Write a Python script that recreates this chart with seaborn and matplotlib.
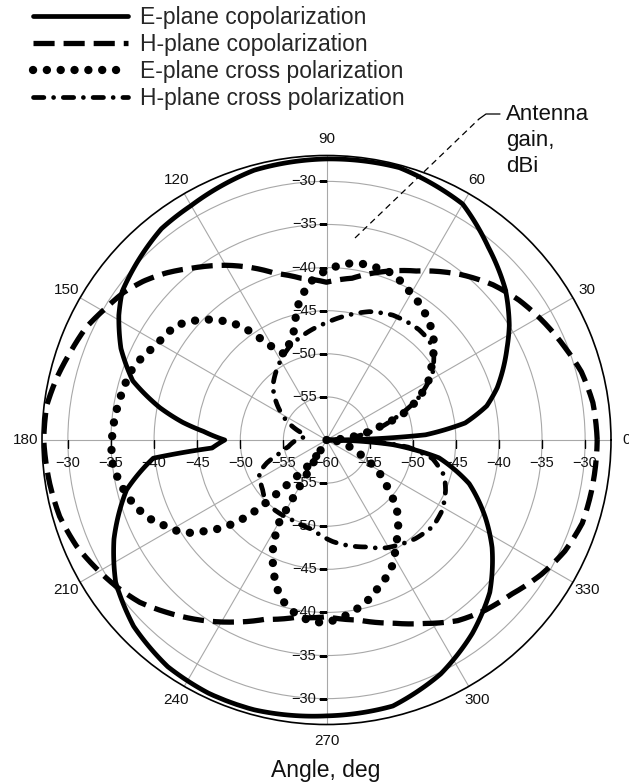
import numpy as np
import matplotlib
matplotlib.use('Agg')
import matplotlib.pyplot as plt
import seaborn as sns
from matplotlib.lines import Line2D

sns.set_theme(style='white')
plt.rcParams['font.family'] = ['Liberation Sans', 'DejaVu Sans']

# ---------------- data (angle in deg, gain in dBi) ----------------
e_co_theta = [0, 3, 7, 12, 17, 22, 27, 32, 40, 50, 60, 75, 90, 105, 120, 128, 137, 144, 149,
              156, 163, 169, 173, 176, 180, 184, 186, 194, 205, 214, 224, 235, 245, 255,
              270, 284, 296, 307, 317, 327, 334, 343, 351, 356, 360]
e_co_gain = [-60, -48.5, -43.8, -41.0, -39.3, -37.9, -36.5, -35.0, -32.9, -30.8, -28.4, -27.3,
             -27.4, -27.6, -28.6, -28.9, -29.9, -30.7, -31.9, -33.9, -36.5, -40.3, -43.2, -45.7,
             -48.2, -46.7, -39.8, -36.1, -32.8, -30.5, -28.9, -27.9, -27.6, -27.6, -28.0,
             -28.2, -29.8, -31.9, -34.1, -37.1, -39.5, -42.7, -46.8, -52.3, -60]

h_co_theta = [0, 8, 15, 21, 29, 36, 43, 51, 62, 72, 81, 90, 99, 107, 120, 128, 134, 139, 144,
              149, 155, 161, 167, 173, 180, 189, 196, 203, 209, 215, 221, 227, 235, 243, 251,
              260, 270, 280, 290, 298, 306, 313, 320, 328, 335, 342, 349, 360]
h_co_gain = [-28.6, -28.8, -29.4, -30.3, -31.4, -32.4, -33.6, -35.3, -37.8, -39.5, -41.0, -41.7,
             -41.0, -39.8, -36.6, -34.7, -33.1, -31.9, -30.9, -30.2, -29.2, -28.6, -27.9, -27.3,
             -27.2, -27.5, -27.8, -28.5, -29.4, -30.3, -31.3, -32.7, -34.5, -36.3, -38.0, -39.1,
             -39.5, -38.8, -37.4, -35.9, -34.1, -33.0, -32.1, -30.6, -29.5, -28.8, -28.7, -28.6]

e_x_theta = [0, 5, 10, 14, 17, 20, 25, 29, 34, 38, 43, 47, 52, 57, 63, 68, 73, 77, 82, 86, 91,
             96, 100, 103, 105, 108, 116, 121, 124, 126.5, 129.5, 132.5, 136, 139.5, 143, 147.5,
             152, 157, 161, 166, 170, 174, 177, 180, 184, 188, 191, 195, 200, 204.5, 208, 212,
             215, 217, 220, 222, 224, 225.5, 227, 229, 232, 236, 240, 240, 240, 242, 244, 246.5,
             249, 252, 255.5, 260, 265, 269, 274, 279, 284, 290, 295, 299, 303, 307.5, 312, 317,
             320.5, 326, 331.5, 336.5, 342, 350, 360]
e_x_gain = [-60, -58, -55.5, -53.7, -51.8, -50, -48.1, -46.6, -45.4, -44.3, -43, -42.2, -41.4,
            -40.7, -40, -39.2, -39.2, -39.1, -39.3, -39.7, -40.5, -41.6, -43.2, -44.5, -46,
            -47.4, -49, -47.2, -45.4, -43.7, -42.3, -41.1, -39.9, -38.9, -38, -37.7, -37.2,
            -36.4, -35.9, -35.7, -35.5, -35.3, -35.2, -35.1, -35, -35.1, -35.5, -35.9, -36.7,
            -37.7, -38.8, -39.9, -41.2, -42.5, -44.1, -45.6, -47.3, -49.2, -51.3, -53.5, -55.3,
            -57, -59, -55, -49.1, -47.3, -45.8, -44.4, -43.1, -41.7, -40.5, -39.5, -38.9, -38.8,
            -39.2, -39.9, -40.7, -42, -42.9, -43.9, -45.3, -46.4, -47.6, -49, -50.6, -52.1,
            -53.9, -55.6, -57, -58, -60]

h_x_theta = [0, 7, 11, 17, 24, 32, 38, 44, 50, 55, 62, 71.5, 81, 90, 101, 112, 122, 135, 142,
             154, 164, 172, 180, 190, 196, 201, 206, 218, 226, 237, 247, 261, 273.5, 280.5, 290,
             299, 312, 321, 329, 337, 343, 350, 355, 360]
h_x_gain = [-57, -56.5, -54.5, -52, -48.5, -45.5, -44.2, -43.4, -43.3, -43.4, -43.6, -44.3,
            -45.4, -46.4, -47.4, -48.4, -49.6, -51.2, -52.5, -54.8, -57, -57.5, -56.5, -55.5,
            -54.3, -52.6, -51.3, -50.6, -49.9, -49.9, -49.9, -49.5, -48.2, -47.6, -46.8, -45.7,
            -44.6, -44.1, -44.3, -45, -45.7, -47.5, -50.5, -57]

series_names = ['E-plane copolarization', 'H-plane copolarization',
                'E-plane cross polarization', 'H-plane cross polarization']

rings = [-55, -50, -45, -40, -35, -30]
theta_ticks = [0, 30, 60, 90, 120, 150, 180, 210, 240, 270, 300, 330]
r_min, r_max = -60, -27

# ---------------- figure ----------------
W, H = 629, 784
fig = plt.figure(figsize=(W / 100, H / 100), dpi=100)
cx, cy, R = 326.5, 440, 284.5
ax = fig.add_axes([(cx - R) / W, (H - cy - R) / H, 2 * R / W, 2 * R / H], projection='polar')
ax.set_ylim(r_min, r_max)
ax.set_yticks(rings)
ax.set_yticklabels([])
ax.set_xticks(np.deg2rad(theta_ticks))
ax.set_xticklabels([str(t) for t in theta_ticks], fontsize=11, color='#111111')
ax.tick_params(axis='x', direction='out', length=3.6, width=1, color='black', pad=1)
ax.grid(True, color='#a8a8a8', lw=0.8)
ax.spines['polar'].set_color('black')
ax.spines['polar'].set_linewidth(1.2)
ax.set_facecolor('white')


def draw(theta, gain, lw, dashes=None, cap='butt'):
    sns.lineplot(x=np.deg2rad(theta), y=gain, ax=ax, sort=False, estimator=None,
                 color='black', lw=lw, zorder=4)
    ln = ax.lines[-1]
    if dashes is not None:
        ln.set_dashes(dashes)
    ln.set_dash_capstyle(cap)
    ln.set_solid_capstyle('round')
    ln.set_solid_joinstyle('round')
    # let the polar transform follow the angular direction between readings
    ln.get_path()._interpolation_steps = 24
    return ln


l1 = draw(e_co_theta, e_co_gain, 3.4)
l2 = draw(h_co_theta, h_co_gain, 3.8, dashes=(4.0, 1.7), cap='butt')
l3 = draw(e_x_theta, e_x_gain, 6.0, dashes=(0.01, 1.65), cap='round')
l4 = draw(h_x_theta, h_x_gain, 3.4, dashes=(2.2, 2.05, 0.01, 2.05), cap='round')
ax.set_xlabel('')
ax.set_ylabel('')

# radial tick labels along the four axes
for r in rings:
    lab = '\u2212' + str(abs(r))
    for ang in (90, 270):
        ax.annotate(lab, xy=(np.deg2rad(ang), r), xytext=(-10, 0), textcoords='offset pixels',
                    ha='right', va='center', fontsize=10.5, color='#111111', zorder=2)
    for ang in (0, 180):
        ax.annotate(lab, xy=(np.deg2rad(ang), r), xytext=(0, -23), textcoords='offset pixels',
                    ha='center', va='center', fontsize=10.5, color='#111111', zorder=2)
ax.annotate('\u2212' + str(abs(r_min)), xy=(0, r_min), xytext=(0, -23), textcoords='offset pixels',
            ha='center', va='center', fontsize=10.5, color='#111111', zorder=2)
for ang, mk in ((90, 0), (270, 0), (0, 3), (180, 3)):
    ax.plot(np.full(len(rings), np.deg2rad(ang)), rings, ls='none', marker=mk, ms=6, mew=1,
            color='black', zorder=2)

# legend
fig.legend(handles=[l1, l2, l3, l4], labels=series_names, loc='upper left',
           bbox_to_anchor=(33 / W, 1 - 6 / H), frameon=False, fontsize=16.5,
           handlelength=4.15, handletextpad=0.5, labelspacing=0.17, borderpad=0,
           borderaxespad=0)

# annotation
def fp(x, y):
    return x / W, 1 - y / H

xs, ys = zip(fp(355, 238), fp(479, 119))
fig.add_artist(Line2D(xs, ys, transform=fig.transFigure, color='black', lw=0.9,
                      dashes=(5, 3.5)))
xs, ys = zip(fp(479, 119), fp(486, 114), fp(500, 114))
fig.add_artist(Line2D(xs, ys, transform=fig.transFigure, color='black', lw=0.9))
fig.text(*fp(506, 104), 'Antenna\ngain,\ndBi', ha='left', va='top', fontsize=16,
         linespacing=1.3, color='#111111')

fig.text(*fp(326, 771), 'Angle, deg', ha='center', va='center', fontsize=16.5, color='#111111')

fig.savefig('out.png', dpi=100, facecolor='white')
